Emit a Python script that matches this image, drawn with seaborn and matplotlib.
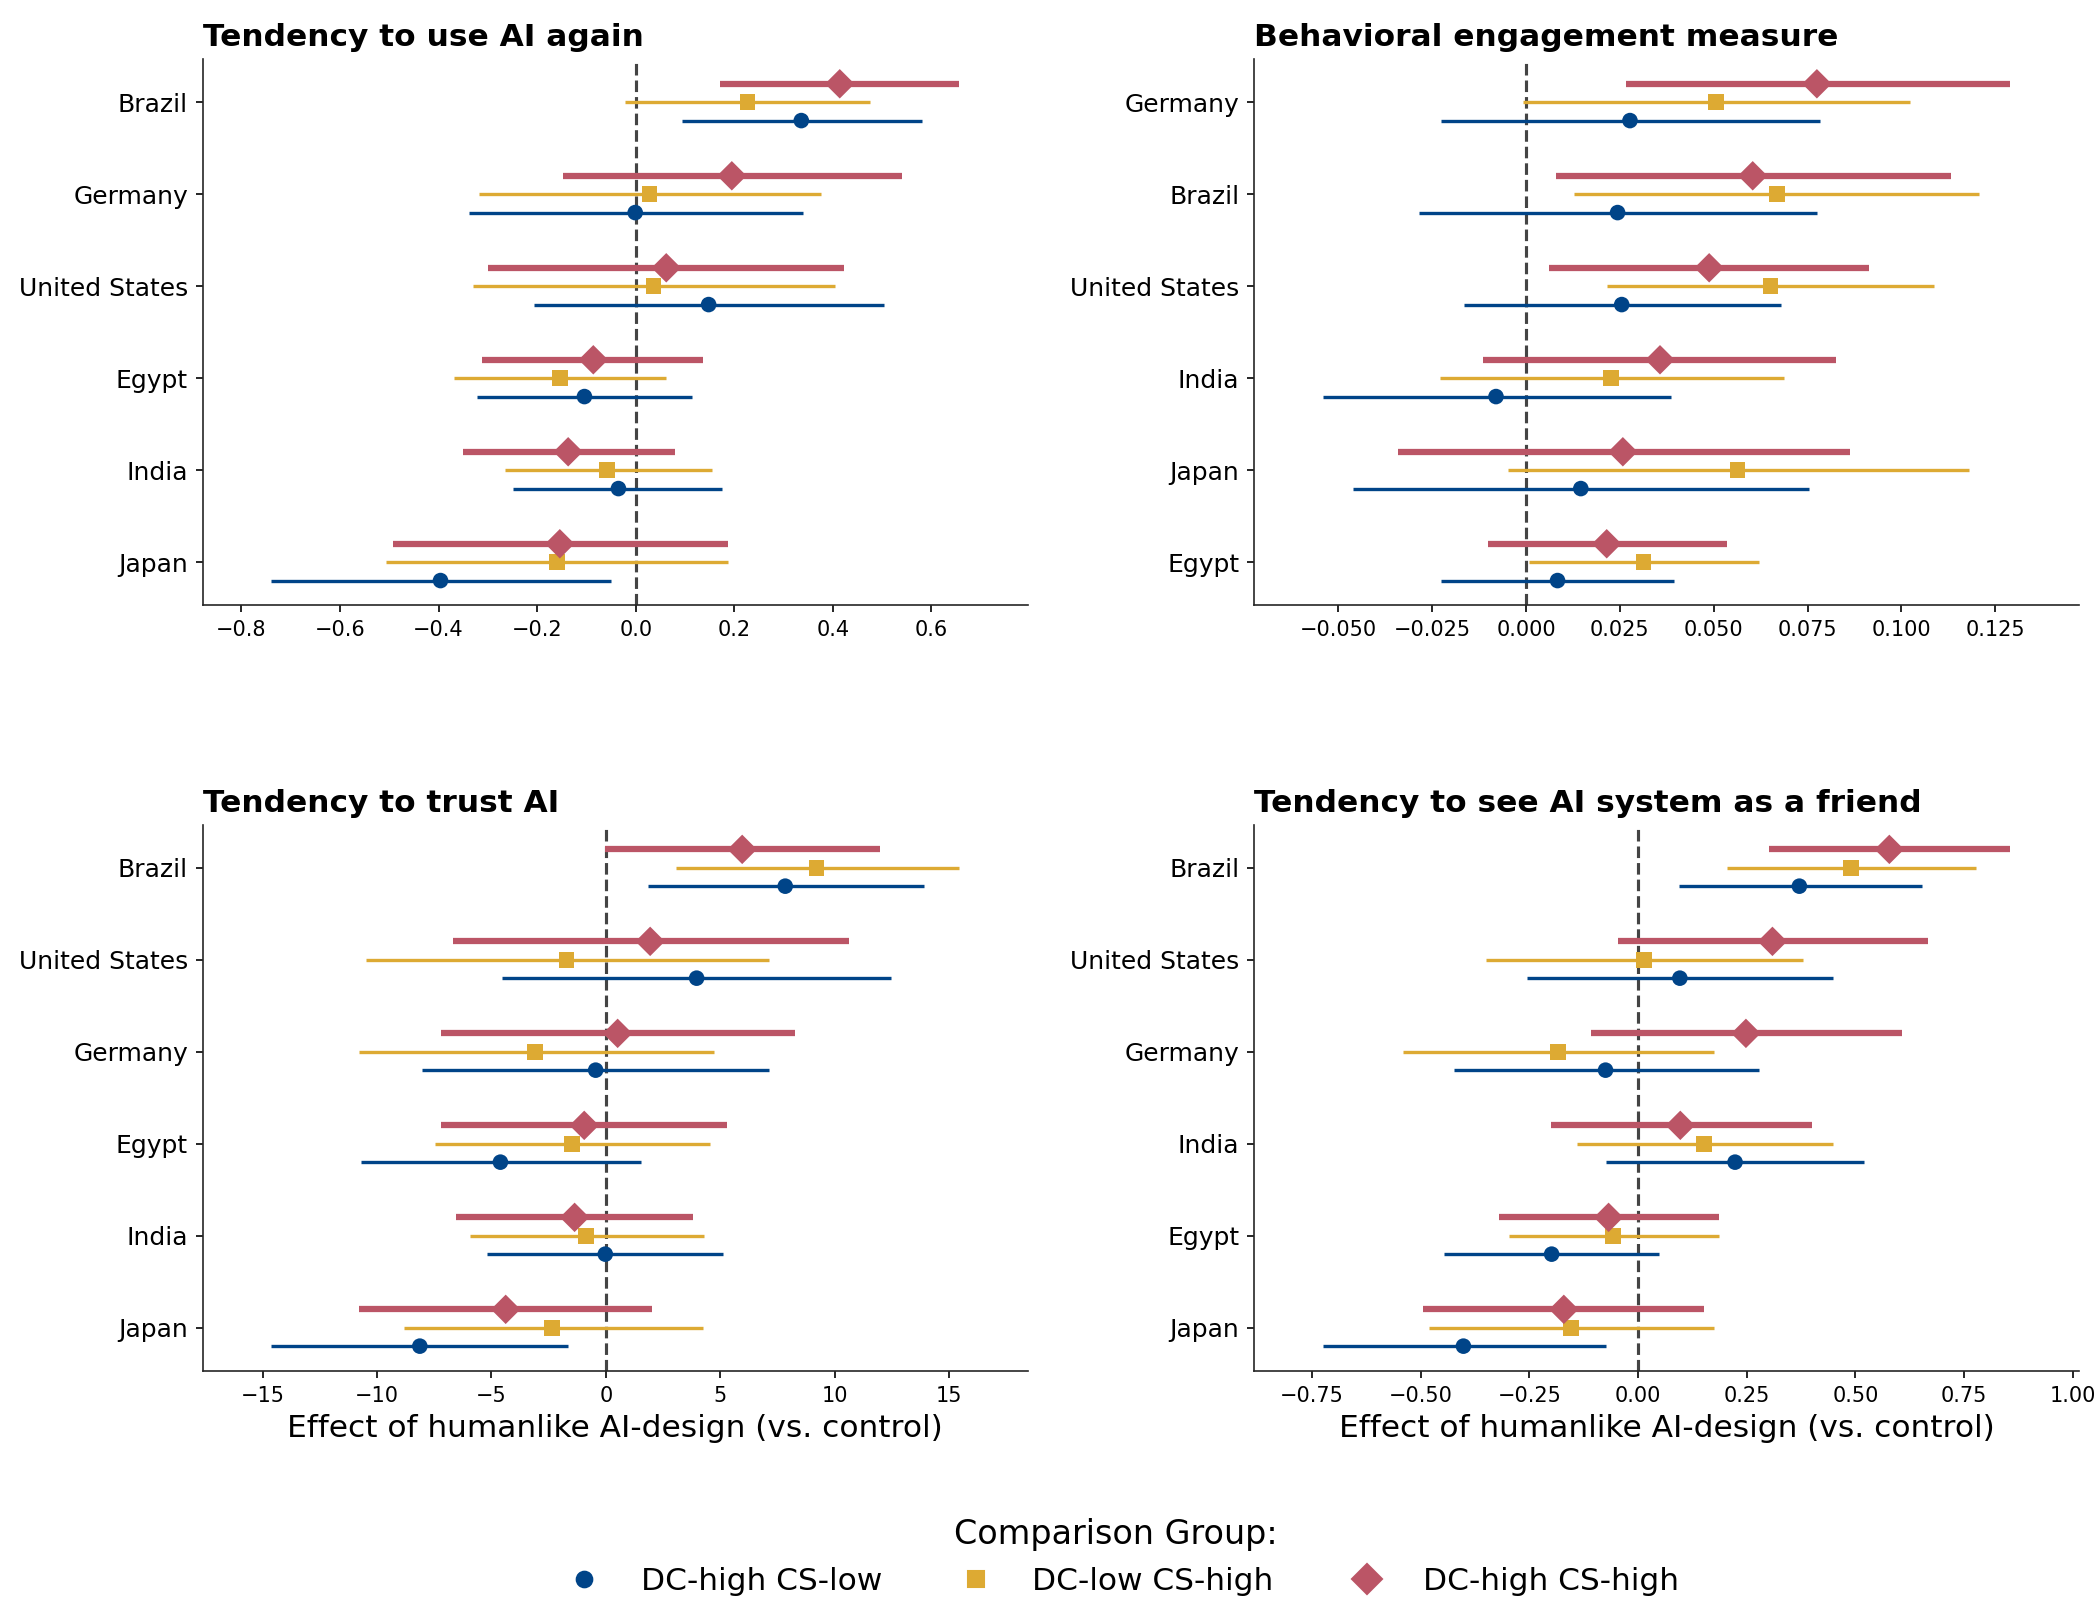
import numpy as np
import pandas as pd
import matplotlib
matplotlib.use("Agg")
import matplotlib.pyplot as plt
from matplotlib.lines import Line2D
import seaborn as sns

# --- data ---
countries = ["Brazil", "Germany", "United States", "Egypt", "India", "Japan"]
groups = ["DC-high CS-low", "DC-low CS-high", "DC-high CS-high"]

# Tendency to use AI again  (rows: groups, cols: countries)
use_est = [[0.336, -0.001, 0.148, -0.104, -0.035, -0.396],
           [0.227, 0.028, 0.036, -0.154, -0.058, -0.160],
           [0.414, 0.195, 0.062, -0.086, -0.137, -0.154]]
use_lo = [[0.093, -0.339, -0.207, -0.322, -0.248, -0.739],
          [-0.021, -0.317, -0.331, -0.369, -0.266, -0.506],
          [0.172, -0.147, -0.299, -0.311, -0.350, -0.492]]
use_hi = [[0.580, 0.339, 0.504, 0.115, 0.176, -0.051],
          [0.476, 0.375, 0.405, 0.062, 0.154, 0.187],
          [0.656, 0.541, 0.423, 0.137, 0.079, 0.188]]

# Behavioral engagement measure
eng_est = [[0.0244, 0.0277, 0.0255, 0.0084, -0.0080, 0.0146],
           [0.0668, 0.0506, 0.0651, 0.0313, 0.0226, 0.0564],
           [0.0604, 0.0775, 0.0488, 0.0215, 0.0357, 0.0258]]
eng_lo = [[-0.0286, -0.0226, -0.0166, -0.0226, -0.0542, -0.0460],
          [0.0127, -0.0007, 0.0215, 0.0009, -0.0229, -0.0049],
          [0.0080, 0.0267, 0.0060, -0.0100, -0.0115, -0.0342]]
eng_hi = [[0.0775, 0.0782, 0.0680, 0.0395, 0.0386, 0.0753],
          [0.1208, 0.1022, 0.1088, 0.0622, 0.0688, 0.1179],
          [0.1132, 0.1290, 0.0913, 0.0535, 0.0826, 0.0864]]

# Tendency to trust AI
trust_est = [[7.83, -0.45, 3.96, -4.61, -0.03, -8.13],
             [9.20, -3.10, -1.73, -1.49, -0.86, -2.35],
             [5.95, 0.51, 1.93, -0.95, -1.37, -4.38]]
trust_lo = [[1.82, -8.04, -4.52, -10.68, -5.21, -14.61],
            [3.04, -10.80, -10.48, -7.47, -5.92, -8.84],
            [-0.06, -7.20, -6.67, -7.20, -6.55, -10.77]]
trust_hi = [[13.90, 7.14, 12.47, 1.52, 5.12, -1.64],
            [15.42, 4.73, 7.14, 4.55, 4.29, 4.23],
            [11.96, 8.27, 10.60, 5.30, 3.81, 2.02]]

# Tendency to see AI system as a friend
friend_est = [[0.371, -0.075, 0.096, -0.199, 0.223, -0.402],
              [0.490, -0.185, 0.013, -0.058, 0.151, -0.154],
              [0.578, 0.248, 0.309, -0.068, 0.097, -0.171]]
friend_lo = [[0.093, -0.424, -0.256, -0.446, -0.074, -0.726],
             [0.204, -0.542, -0.350, -0.298, -0.140, -0.482],
             [0.300, -0.108, -0.047, -0.319, -0.201, -0.495]]
friend_hi = [[0.652, 0.278, 0.449, 0.047, 0.520, -0.074],
             [0.778, 0.174, 0.379, 0.185, 0.448, 0.174],
             [0.856, 0.606, 0.668, 0.185, 0.399, 0.152]]

titles = ["Tendency to use AI again", "Behavioral engagement measure",
          "Tendency to trust AI", "Tendency to see AI system as a friend"]
panels = [(use_est, use_lo, use_hi), (eng_est, eng_lo, eng_hi),
          (trust_est, trust_lo, trust_hi), (friend_est, friend_lo, friend_hi)]

colors = {"DC-high CS-low": "#004488", "DC-low CS-high": "#DDAA33", "DC-high CS-high": "#BB5566"}
markers = {"DC-high CS-low": "o", "DC-low CS-high": "s", "DC-high CS-high": "D"}
msizes = {"DC-high CS-low": 56, "DC-low CS-high": 56, "DC-high CS-high": 100}
lwidths = {"DC-high CS-low": 1.6, "DC-low CS-high": 1.6, "DC-high CS-high": 3.0}
offsets = {"DC-high CS-low": 0.2, "DC-low CS-high": 0.0, "DC-high CS-high": -0.2}

sns.set_style("ticks", {"text.color": "black", "axes.labelcolor": "black",
                        "xtick.color": "black", "ytick.color": "black"})
plt.rcParams['font.family'] = ['DejaVu Sans']

fig, axes = plt.subplots(2, 2, figsize=(2094 / 150, 1624 / 150), dpi=150)
fig.subplots_adjust(left=0.0968, right=0.9928, top=0.9637, bottom=0.1558,
                    wspace=0.274, hspace=0.401)

for i, (ax, title, (est, lo, hi)) in enumerate(zip(axes.flat, titles, panels)):
    rows = []
    for g, grp in enumerate(groups):
        for c, country in enumerate(countries):
            rows.append({"country": country, "group": grp, "est": est[g][c],
                         "lo": lo[g][c], "hi": hi[g][c]})
    df = pd.DataFrame(rows)

    # countries ordered by the DC-high CS-high estimate
    red = df[df["group"] == "DC-high CS-high"].sort_values("est", ascending=False)
    order = list(red["country"])
    pos = {c: k for k, c in enumerate(order)}
    df["y"] = df["country"].map(pos) + df["group"].map(offsets)

    ax.axvline(0, color="#444444", linestyle="--", linewidth=1.5, zorder=1)
    for grp in groups:
        sub = df[df["group"] == grp]
        ax.hlines(sub["y"], sub["lo"], sub["hi"], color=colors[grp],
                  linewidth=lwidths[grp], zorder=2)
    sns.scatterplot(data=df, x="est", y="y", hue="group", style="group",
                    size="group", sizes=msizes, markers=markers, palette=colors,
                    hue_order=groups, style_order=groups, size_order=groups,
                    linewidth=0, legend=False, ax=ax, zorder=3)

    xmin, xmax = df["lo"].min(), df["hi"].max()
    pad = 0.1 * (xmax - xmin)
    ax.set_xlim(xmin - pad, xmax + pad)
    ax.set_yticks(range(len(order)))
    ax.set_yticklabels(order)
    ax.invert_yaxis()
    ax.tick_params(axis="y", labelsize=12)
    ax.tick_params(axis="x", labelsize=10)
    ax.set_ylabel("")
    if i >= 2:
        ax.set_xlabel("Effect of humanlike AI-design (vs. control)", fontsize=15)
    else:
        ax.set_xlabel("")
    ax.set_title(title, loc="left", fontsize=15, fontweight="bold")
    sns.despine(ax=ax)

handles = [Line2D([0], [0], marker=markers[g], color=colors[g], linestyle="none",
                  markersize=np.sqrt(msizes[g])) for g in groups]
fig.legend(handles, groups, loc="lower center", bbox_to_anchor=(0.533, 0.0),
           ncol=3, frameon=False, fontsize=15, title="Comparison Group:",
           title_fontsize=16, columnspacing=2.0)

fig.savefig("out.png", dpi=150)
